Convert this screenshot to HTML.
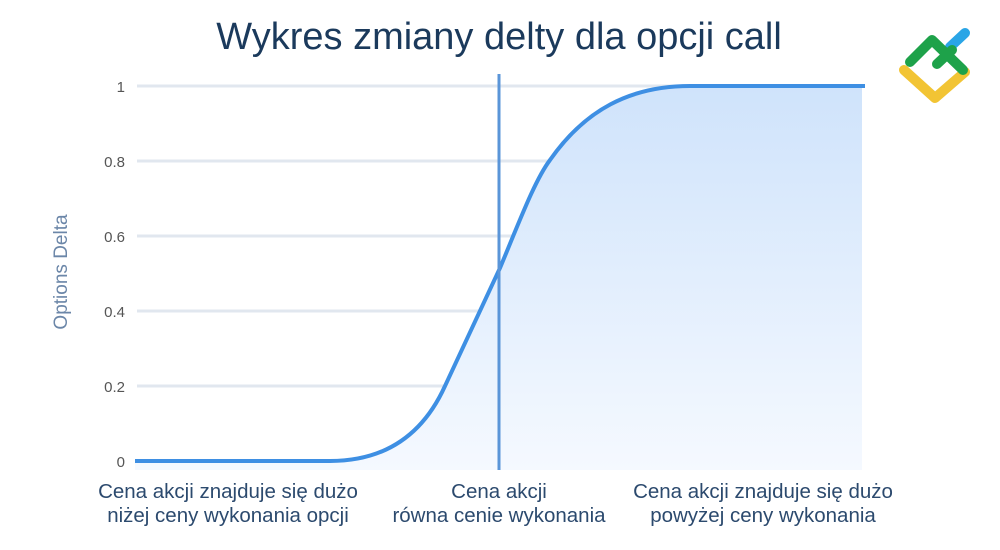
<!DOCTYPE html>
<html><head><meta charset="utf-8"><style>
body{margin:0;background:#fff;width:1000px;height:545px;overflow:hidden;font-family:"Liberation Sans",sans-serif}
</style></head><body>
<svg width="1000" height="545" viewBox="0 0 1000 545" xmlns="http://www.w3.org/2000/svg">
<defs><linearGradient id="g" x1="0" y1="0" x2="0" y2="1"><stop offset="0" stop-color="#cfe3fb"/><stop offset="1" stop-color="#f5f9ff"/></linearGradient></defs>
<text x="499" y="49" text-anchor="middle" font-size="38" fill="#1b3a5c">Wykres zmiany delty dla opcji call</text>
<g stroke="#e1e7ef" stroke-width="3">
<line x1="137" y1="86" x2="862" y2="86"/><line x1="137" y1="161" x2="862" y2="161"/><line x1="137" y1="236" x2="862" y2="236"/><line x1="137" y1="311" x2="862" y2="311"/><line x1="137" y1="386" x2="862" y2="386"/><line x1="137" y1="461" x2="862" y2="461"/></g>
<g font-size="15" fill="#555" text-anchor="end"><text x="125" y="92">1</text><text x="125" y="167">0.8</text><text x="125" y="242">0.6</text><text x="125" y="317">0.4</text><text x="125" y="392">0.2</text><text x="125" y="467">0</text></g>
<text transform="translate(67,272) rotate(-90)" text-anchor="middle" font-size="19" fill="#6b86a8">Options Delta</text>
<path d="M135,461 L330,461 C390,461 425,430 445,386 L500,268 C520,220 535,180 550,160 C585,110 630,86 690,86 L862,86 L862,470 L135,470 Z" fill="url(#g)"/>
<path d="M135,461 L330,461 C390,461 425,430 445,386 L500,268 C520,220 535,180 550,160 C585,110 630,86 690,86 L865,86" fill="none" stroke="#3e8fe3" stroke-width="4"/>
<line x1="499" y1="74" x2="499" y2="470" stroke="#5a95d8" stroke-width="3"/>
<g font-size="20.5" fill="#2c4a6e" text-anchor="middle">
<text x="228" y="498">Cena akcji znajduje się dużo</text><text x="228" y="522">niżej ceny wykonania opcji</text>
<text x="499" y="498">Cena akcji</text><text x="499" y="522">równa cenie wykonania</text>
<text x="763" y="498">Cena akcji znajduje się dużo</text><text x="763" y="522">powyżej ceny wykonania</text></g>
<g fill="none" stroke-linecap="round" stroke-linejoin="round" stroke-width="10">
<path d="M950,47 L965,33" stroke="#2aa5e6"/>
<path d="M904,70 L935,98 L965,72" stroke="#f2c434"/>
<path d="M910,62 L932,40 L963,70 M937,64 L952,50" stroke="#1ea24a"/>
</g>
</svg>
</body></html>
